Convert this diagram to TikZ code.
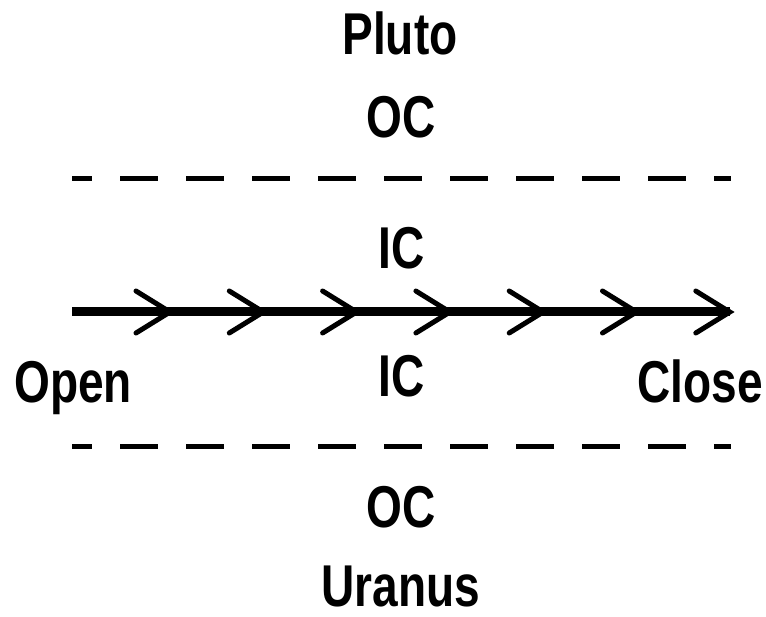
\documentclass[tikz,border=0pt]{standalone}
\usepackage{fontspec}
\setmainfont{Liberation Sans}[FakeStretch=0.78]
\usepackage{tikz}

\tikzset{
	label/.style={inner sep=0pt, font=\fontsize{59}{62}\selectfont\bfseries},
	limit/.style={line width=5pt, dash pattern=on 38pt off 28pt, dash phase=18pt},
	chevron/.style={line width=5pt, line cap=round, line join=miter}
}

\begin{document}
\begin{tikzpicture}[x=1pt, y=-1pt]
	\useasboundingbox (0,0) rectangle (766,617);
	% labels
	\node[label, anchor=base] (pluto) at (400,55) {Pluto};
	\node[label, anchor=base] (ocup) at (401,138) {OC};
	\node[label, anchor=base] (icup) at (402,269) {IC};
	\node[label, anchor=base] (icdown) at (402,397) {IC};
	\node[label, anchor=base] (ocdown) at (401,527) {OC};
	\node[label, anchor=base] (uranus) at (401,606) {Uranus};
	\node[label, anchor=base west] (open) at (14,403) {Open};
	\node[label, anchor=base east] (close) at (763,403) {Close};
	% borders
	\coordinate (upleft) at (72,179);
	\coordinate (upright) at (731,179);
	\coordinate (downleft) at (72,447);
	\coordinate (downright) at (731,447);
	\draw[limit] (upleft) -- (upright);
	\draw[limit] (downleft) -- (downright);
	% path
	\coordinate (start) at (72,312);
	\coordinate (stop) at (730,312);
	\draw[line width=9pt] (start) -- (stop);
	\foreach \i in {0,...,6}
		\draw[chevron] (170+93.3*\i-34,291) -- (170+93.3*\i,312) -- (170+93.3*\i-34,333);
\end{tikzpicture}
\end{document}
